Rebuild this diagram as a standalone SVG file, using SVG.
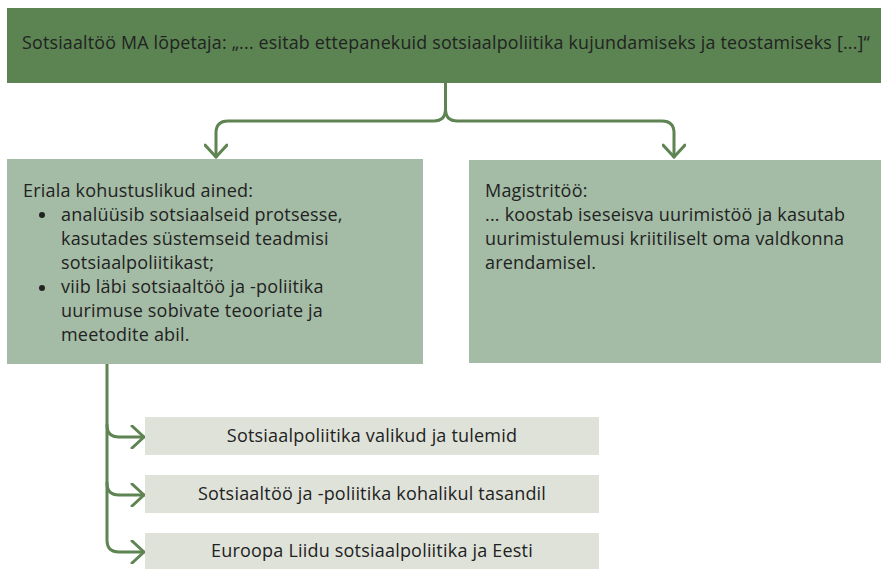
<svg xmlns="http://www.w3.org/2000/svg" width="881" height="569" viewBox="0 0 881 569">
  <style>
    .txt { font-family: "Open Sans", "Liberation Sans", sans-serif; font-size: 18px; letter-spacing: 0.2px; fill: #222; }
    .mid { text-anchor: middle; }
    .wire { fill: none; stroke: #5e8453; stroke-width: 3; stroke-linecap: round; stroke-linejoin: round; }
    .dark { fill: #5b8452; }
    .light { fill: #a4bca5; }
    .pale { fill: #dfe2d9; }
  </style>
  <defs>
    <marker id="chev" viewBox="0 0 16 24" refX="14" refY="12" markerWidth="16" markerHeight="24" markerUnits="userSpaceOnUse" orient="auto">
      <path d="M2,1 L14,12 L2,23" fill="none" stroke="#5e8453" stroke-width="3" stroke-linecap="round" stroke-linejoin="round"/>
    </marker>
  </defs>

  <rect width="881" height="569" fill="#fff"/>

  <g id="connectors">
    <path class="wire" d="M445.5,83 V109 Q445.5,121 433.5,121 H228 Q216,121 216,133 V157" marker-end="url(#chev)"/>
    <path class="wire" d="M445.5,109 Q445.5,121 457.5,121 H662 Q674,121 674,133 V157" marker-end="url(#chev)"/>
    <path class="wire" d="M107,364 V425 Q107,437 119,437 H144" marker-end="url(#chev)"/>
    <path class="wire" d="M107,425 V483 Q107,495 119,495 H144" marker-end="url(#chev)"/>
    <path class="wire" d="M107,483 V540 Q107,552 119,552 H144" marker-end="url(#chev)"/>
  </g>

  <g id="graduate">
    <rect class="dark" x="7" y="8" width="874" height="75"/>
    <text class="txt" x="22" y="49" textLength="848" lengthAdjust="spacingAndGlyphs">Sotsiaaltöö MA lõpetaja: „... esitab ettepanekuid sotsiaalpoliitika kujundamiseks ja teostamiseks [...]“</text>
  </g>

  <g id="courses">
    <rect class="light" x="7" y="159" width="416" height="205"/>
    <text class="txt" x="23" y="197">Eriala kohustuslikud ained:</text>
    <circle cx="42" cy="215" r="3" fill="#222"/>
    <text class="txt" x="61" y="221">analüüsib sotsiaalseid protsesse,</text>
    <text class="txt" x="61" y="245">kasutades süstemseid teadmisi</text>
    <text class="txt" x="61" y="269">sotsiaalpoliitikast;</text>
    <circle cx="42" cy="288" r="3" fill="#222"/>
    <text class="txt" x="61" y="293">viib läbi sotsiaaltöö ja -poliitika</text>
    <text class="txt" x="61" y="317">uurimuse sobivate teooriate ja</text>
    <text class="txt" x="61" y="341">meetodite abil.</text>
  </g>

  <g id="thesis">
    <rect class="light" x="469" y="160" width="412" height="203"/>
    <text class="txt" x="485" y="197">Magistritöö:</text>
    <text class="txt" x="485" y="221">... koostab iseseisva uurimistöö ja kasutab</text>
    <text class="txt" x="485" y="245">uurimistulemusi kriitiliselt oma valdkonna</text>
    <text class="txt" x="485" y="269">arendamisel.</text>
  </g>

  <g id="course-1">
    <rect class="pale" x="145" y="417" width="454" height="38"/>
    <text class="txt mid" x="372" y="442">Sotsiaalpoliitika valikud ja tulemid</text>
  </g>

  <g id="course-2">
    <rect class="pale" x="145" y="475" width="454" height="38"/>
    <text class="txt mid" x="372" y="500">Sotsiaaltöö ja -poliitika kohalikul tasandil</text>
  </g>

  <g id="course-3">
    <rect class="pale" x="145" y="533" width="454" height="36"/>
    <text class="txt mid" x="372" y="557">Euroopa Liidu sotsiaalpoliitika ja Eesti</text>
  </g>
</svg>
